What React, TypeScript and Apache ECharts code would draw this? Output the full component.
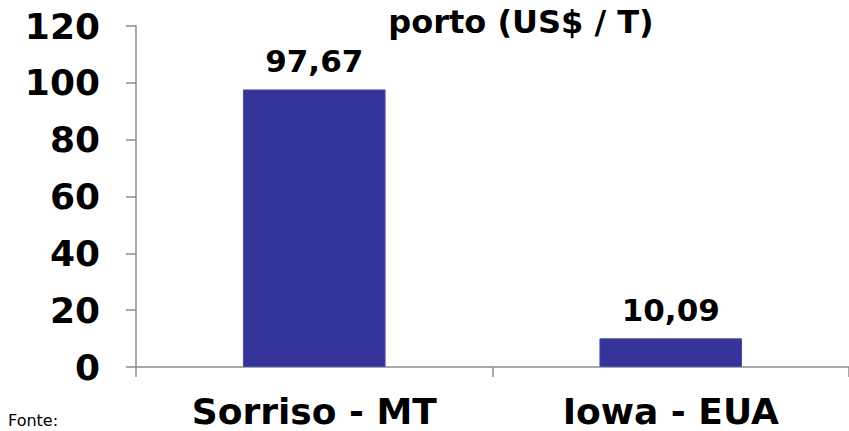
import React, { useEffect, useRef } from "react";
import * as echarts from "echarts";

const categories = ["Sorriso - MT", "Iowa - EUA"];
const values = [97.67, 10.09];
const yTicks = [0, 20, 40, 60, 80, 100, 120];
const titleText = "porto (US$ / T)";
const sourceText = "Fonte:";

export default function App() {
  const ref = useRef<HTMLDivElement>(null);
  useEffect(() => {
    const chart = echarts.init(ref.current!, null, { renderer: "svg" });
    const font = "'DejaVu Sans', Verdana, sans-serif";
    chart.setOption({
      animation: false,
      backgroundColor: "#ffffff",
      title: {
        text: titleText,
        left: 516,
        textAlign: "center",
        top: 1,
        textStyle: { fontFamily: font, fontWeight: "bold", fontSize: 32, color: "#000" },
      },
      grid: { left: 136, top: 26, width: 722, bottom: 64 },
      xAxis: {
        type: "category",
        data: categories,
        axisLine: { lineStyle: { color: "#8c8c8c", width: 1.5 } },
        axisTick: { show: true, length: 10, lineStyle: { color: "#8c8c8c", width: 1.5 } },
        axisLabel: {
          margin: 26,
          fontFamily: font,
          fontWeight: "bold",
          fontSize: 36,
          color: "#000",
        },
      },
      yAxis: {
        type: "value",
        min: yTicks[0],
        max: yTicks[yTicks.length - 1],
        interval: 20,
        splitLine: { show: false },
        axisLine: { show: true, lineStyle: { color: "#8c8c8c", width: 1.5 } },
        axisTick: { show: true, length: 10, lineStyle: { color: "#8c8c8c", width: 1.5 } },
        axisLabel: {
          margin: 36,
          fontFamily: font,
          fontWeight: "bold",
          fontSize: 36,
          color: "#000",
        },
      },
      series: [
        {
          type: "bar",
          data: values,
          barWidth: "40%",
          itemStyle: { color: "#35349a", borderColor: "#4a4aa8", borderWidth: 1 },
          label: {
            show: true,
            position: "top",
            distance: 13,
            fontFamily: font,
            fontWeight: "bold",
            fontSize: 31,
            color: "#000",
            formatter: (p: any) => p.value.toFixed(2).replace(".", ","),
          },
        },
      ],
      graphic: [
        {
          type: "text",
          left: 8,
          top: 412,
          style: { text: sourceText, fontFamily: font, fontSize: 16, fill: "#000" },
        },
      ],
    });
    return () => chart.dispose();
  }, []);
  return <div ref={ref} style={{ width: 849, height: 431, position: "absolute", left: 0, top: 0 }} />;
}
